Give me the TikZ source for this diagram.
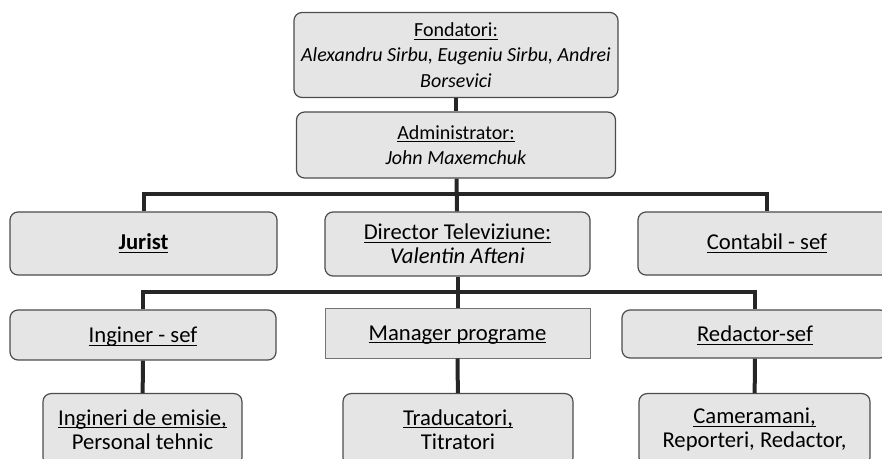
\documentclass[tikz,border=0pt]{standalone}
\usepackage{fontspec}
\setmainfont{Carlito}
\usepackage{tikz}

\newcommand{\undl}[1]{\leavevmode\setbox0\hbox{#1}\rlap{\rule[-2.2pt]{\wd0}{0.7pt}}\box0}

\begin{document}
\begin{tikzpicture}[x=0.75pt,y=0.75pt,yscale=-1,xscale=1,
  box/.style={draw=black!70,line width=0.9pt,fill=black!10,rounded corners=6pt,align=center,inner sep=0.75pt,font=\fontsize{17}{18}\selectfont},
  topbox/.style={box,font=\fontsize{15}{19}\selectfont},
  rowbox/.style={box,text depth=0pt},
  selbox/.style={rowbox,rounded corners=0pt,draw=black!55,line width=0.6pt},
  link/.style={draw=black!85,line width=3pt}]

\useasboundingbox (0,0) rectangle (882,459);

% conducere
\node[topbox,minimum width=243pt,minimum height=63.75pt] (fond) at (456,55) {\undl{Fondatori:}\\ \textit{Alexandru Sirbu, Eugeniu Sirbu, Andrei}\\ \textit{Borsevici}};

\node[topbox,minimum width=239.25pt,minimum height=49.5pt] (admin) at (456,145) {\undl{Administrator:}\\ \textit{John Maxemchuk}};

% nivelul 2
\node[box,minimum width=200.25pt,minimum height=47.25pt] (jurist) at (143.5,243.5) {\undl{\textbf{Jurist}}};

\node[box,minimum width=198.75pt,minimum height=48pt] (director) at (457.5,244) {\undl{Director Televiziune:}\\ \textit{Valentin Afteni}};

\node[box,minimum width=193.5pt,minimum height=47.25pt] (contabil) at (767,243.5) {\undl{Contabil - sef}};

% nivelul 3
\node[rowbox,minimum width=199.5pt,minimum height=37.5pt] (inginer) at (143,335) {\undl{Inginer - sef}};

\node[selbox,minimum width=198.75pt,minimum height=37.5pt] (manager) at (457.5,333) {\undl{Manager programe}};

\node[rowbox,minimum width=199.5pt,minimum height=36pt] (redactor) at (755,334) {\undl{Redactor-sef}};

% nivelul 4
\node[box,anchor=north,minimum width=149.25pt,minimum height=54pt] (ingineri) at (142.5,393) {\undl{Ingineri de emisie,}\\ Personal tehnic};

\node[box,anchor=north,minimum width=172.5pt,minimum height=54pt] (traduc) at (458,393) {\undl{Traducatori,}\\ Titratori};

\node[box,anchor=north,minimum width=173.25pt,minimum height=54pt] (camera) at (754.5,393) {\undl{Cameramani,}\\ Reporteri, Redactor,};

% legaturi
\draw[link] (fond) -- (admin);
\draw[link] (admin) -- (director);
\draw[link] (jurist.north) -- ++(0,-17) -| (contabil.north);

\draw[link] (director) -- (manager);
\draw[link] (inginer.north) -- ++(0,-17) -| (redactor.north);

\draw[link] (inginer) -- (ingineri);
\draw[link] (manager) -- (traduc);
\draw[link] (redactor) -- (camera);

\end{tikzpicture}
\end{document}
